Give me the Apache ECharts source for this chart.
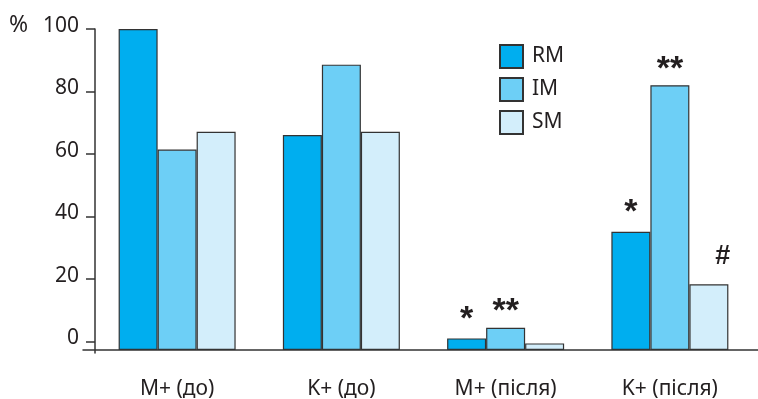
<!DOCTYPE html>
<html><head><meta charset="utf-8">
<script src="https://cdn.jsdelivr.net/npm/echarts@6/dist/echarts.min.js"></script>
<style>html,body{margin:0;padding:0;background:#fff}#c{width:758px;height:399px}</style>
</head><body><div id="c"></div>
<script>
const categories = ['M+ (до)', 'K+ (до)', 'M+ (після)', 'K+ (після)'];
const seriesNames = ['RM', 'IM', 'SM'];
const rmValues = [100, 66.1, 1.0, 35.1];
const imValues = [61.4, 88.6, 4.4, 82.0];
const smValues = [67.1, 67.1, -0.6, 18.3];
const rmMarks = ['', '', '*', '*'];
const imMarks = ['', '', '**', '**'];
const smMarks = ['', '', '', '#'];
const yMin = 0, yMax = 100, yStep = 20;
const barBase = -2.72;

const colors = ['#00aeef', '#6dcff6', '#d3eefb'];
const ink = '#231f20';
const font = 'Noto Sans';

function barSeries(name, values, marks, color, offset, size, dist) {
  return {
    name: name, type: 'bar', xAxisIndex: 0, yAxisIndex: 0,
    data: values, barWidth: 39, barGap: '0%',
    itemStyle: { color: color, borderColor: '#333', borderWidth: 1.2 },
    label: {
      show: true, position: 'top', distance: dist, offset: offset,
      formatter: p => marks[p.dataIndex],
      fontFamily: 'Liberation Sans', fontWeight: 'bold', fontSize: size, color: ink
    },
    emphasis: { disabled: true }, silent: true
  };
}
const g = (o) => Object.assign({ outerBoundsMode: 'none', containLabel: false }, o);

const chart = echarts.init(document.getElementById('c'), null, { renderer: 'canvas' });
chart.setOption({
  animation: false,
  backgroundColor: '#fff',
  graphic: [{
    type: 'text', left: 9, top: 14, silent: true,
    style: { text: '%', font: '23px "Noto Sans"', fontFamily: font, fontSize: 23, fill: ink }
  }],
  legend: {
    orient: 'vertical', left: 499, top: 44, icon: 'rect',
    itemWidth: 23, itemHeight: 23, itemGap: 8, padding: 0,
    textStyle: { fontFamily: font, fontSize: 21, color: ink, padding: [0, 0, 0, 4] },
    data: seriesNames
  },
  grid: [
    g({ left: 95, top: 29, width: 657, height: 321 }),
    g({ left: 95, top: 29, width: 657, height: 312.5 }),
    g({ left: 83, top: 29, width: 675, height: 321 }),
    g({ left: 95, top: 29, width: 657, height: 324 }),
    g({ left: 95, top: 26, width: 657, height: 312.5 })
  ],
  xAxis: [
    { type: 'category', gridIndex: 0, data: categories,
      axisLine: { show: false }, axisTick: { show: false },
      axisLabel: { margin: 29, fontFamily: font, fontSize: 21, color: ink } },
    { type: 'category', gridIndex: 1, data: categories, show: false },
    { type: 'value', gridIndex: 2, axisLine: { show: true, lineStyle: { color: '#333', width: 1.5 } },
      axisTick: { show: false }, axisLabel: { show: false }, splitLine: { show: false } },
    { type: 'value', gridIndex: 3, show: false },
    { type: 'value', gridIndex: 4, show: false }
  ],
  yAxis: [
    { type: 'value', gridIndex: 0, min: barBase, max: yMax, startValue: barBase, show: false },
    { type: 'value', gridIndex: 1, min: yMin, max: yMax, interval: yStep,
      axisLine: { show: false },
      axisTick: { show: true, length: 9, lineStyle: { color: '#333', width: 1.5 } },
      axisLabel: { show: false },
      splitLine: { show: false } },
    { type: 'value', gridIndex: 2, show: false },
    { type: 'value', gridIndex: 3, axisLine: { show: true, lineStyle: { color: '#333', width: 1.5 } },
      axisTick: { show: false }, axisLabel: { show: false }, splitLine: { show: false } },
    { type: 'value', gridIndex: 4, min: yMin, max: yMax, interval: yStep,
      axisLine: { show: false }, axisTick: { show: false }, splitLine: { show: false },
      axisLabel: { margin: 16, fontFamily: font, fontSize: 21, color: ink } }
  ],
  series: [
    barSeries('RM', rmValues, rmMarks, colors[0], [0, 0], 34, 2),
    barSeries('IM', imValues, imMarks, colors[1], [0, 0], 34, -1),
    barSeries('SM', smValues, smMarks, colors[2], [14, 0], 27, 14),
    { type: 'scatter', xAxisIndex: 1, yAxisIndex: 1, data: [] },
    { type: 'scatter', xAxisIndex: 4, yAxisIndex: 4, data: [] }
  ]
});
</script></body></html>
